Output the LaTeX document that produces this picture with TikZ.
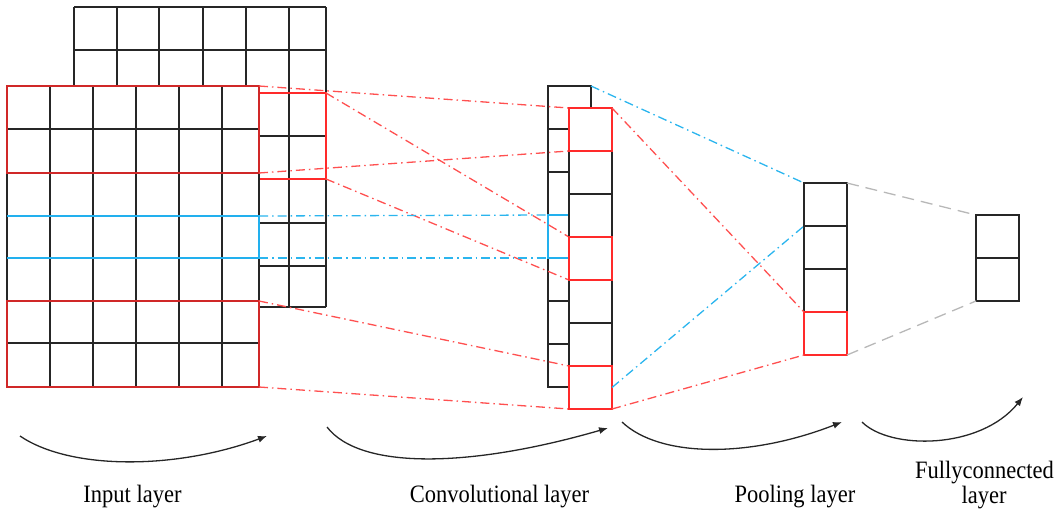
\documentclass[tikz,border=0pt]{standalone}
\usepackage{fontspec}
\newfontfamily\lblfont[FakeStretch=0.9]{Liberation Serif}
\usetikzlibrary{arrows.meta}
\definecolor{gridred}{HTML}{D02828}
\definecolor{cellred}{HTML}{FF2A2A}
\definecolor{lnred}{HTML}{FF5050}
\definecolor{lnblue}{HTML}{2BB5EE}
\definecolor{lngray}{HTML}{B8B8B8}
\definecolor{gridblue}{HTML}{22B0EE}
\begin{document}
\begin{tikzpicture}[x=1pt,y=-1pt,
  gline/.style={line width=1.9pt, draw=black!85},
  redframe/.style={line width=2pt, draw=gridred},
  blueframe/.style={line width=1.9pt, draw=gridblue},
  cell/.style={draw=black!85, line width=1.9pt, inner sep=0pt, outer sep=0pt,
    anchor=north west, minimum width=43pt, minimum height=43pt},
  redcell/.style={cell, draw=cellred},
  bluecell/.style={cell, draw=gridblue},
  reddash/.style={draw=lnred, line width=1.3pt, dash pattern=on 9pt off 4pt on 1.5pt off 4pt},
  bluedash/.style={draw=lnblue, line width=1.3pt, dash pattern=on 9pt off 4pt on 1.5pt off 4pt},
  graydash/.style={draw=lngray, line width=1.3pt, dash pattern=on 12pt off 7pt},
  flow/.style={draw=black!85, line width=1.3pt, -{Latex[length=9pt,width=7pt]}},
  lbl/.style={font=\lblfont\fontsize{25}{25}\selectfont, inner sep=0pt, anchor=base}
]
\useasboundingbox (0,0) rectangle (1063,512);

% ---------- back input grid ----------
\fill[white] (74,7) rectangle (326,307);
\foreach \yy in {7,50,93,136,179,223,266,307}
  \draw[gline] (74,\yy) -- (326,\yy);
\foreach \xx in {74,117,159,203,246,289,326}
  \draw[gline] (\xx,7) -- (\xx,307);
\draw[redframe, draw=cellred] (259,93) rectangle (326,179);

% ---------- front input grid ----------
\fill[white] (7,86) rectangle (259,387);
\foreach \yy in {86,129,173,216,258,301,343,387}
  \draw[gline] (7,\yy) -- (259,\yy);
\foreach \xx in {7,50,93,136,179,222,259}
  \draw[gline] (\xx,86) -- (\xx,387);
\draw[blueframe] (7,216) -- (259,216) -- (259,258) -- (7,258);
\draw[redframe] (7,86) rectangle (259,173);
\draw[redframe] (7,301) rectangle (259,387);

% named anchor points of the input layer
\coordinate (fgA) at (259,86);
\coordinate (fgB) at (259,173);
\coordinate (fgC) at (259,301);
\coordinate (fgD) at (259,387);
\coordinate (fgE) at (259,216);
\coordinate (fgF) at (259,258);
\coordinate (bgA) at (326,93);
\coordinate (bgB) at (326,179);

% ---------- convolutional layer: back column ----------
\foreach \i in {1,...,7}
  \node[cell] (cb\i) at (548,{86+43*(\i-1)}) {};
\node[bluecell] (cb4) at (548,{86+43*3}) {};

% ---------- convolutional layer: front column (positions) ----------
\path foreach \i in {1,...,7} { (569,{108+43*(\i-1)}) coordinate (cfpos\i) };

% connectors input -> conv
\draw[reddash] (fgA) -- (cfpos1);
\draw[reddash] (bgA) -- (cfpos4);
\draw[reddash] (fgB) -- (cfpos2);
\draw[reddash] (bgB) -- (cfpos5);
\draw[reddash] (fgC) -- (cfpos7);
\draw[reddash] (fgD) -- (569,409);
\draw[bluedash] (fgE) -- (cb4.north west);
\draw[bluedash] (fgF) -- (cb4.south west);

% ---------- convolutional layer: front column ----------
\fill[white] (569,108) rectangle (612,409);
\foreach \i in {1,...,7}
  \node[cell] (cf\i) at (cfpos\i) {};
\foreach \i in {1,4,7}
  \node[redcell] (cf\i) at (cfpos\i) {};

% ---------- pooling layer ----------
\foreach \i in {1,...,3}
  \node[cell] (p\i) at (804,{183+43*(\i-1)}) {};
\node[redcell] (p4) at (804,{183+43*3}) {};

% ---------- fully connected layer ----------
\node[cell] (f1) at (976,215) {};
\node[cell] (f2) at (976,258) {};

% connectors conv -> pool
\draw[bluedash] (cb1.north east) -- (p1.north west);
\draw[reddash] (cf1.north east) -- (p4.north west);
\draw[bluedash] (cf7.east) -- (p2.north west);
\draw[reddash] (cf7.south east) -- (p4.south west);

% connectors pool -> fc
\draw[graydash] (p1.north east) -- (f1.north west);
\draw[graydash] (p4.south east) -- (f2.south west);

% ---------- flow arrows ----------
\coordinate (a1s) at (20,436);   \coordinate (a1e) at (267,436);
\coordinate (a2s) at (327,427);  \coordinate (a2e) at (608,428);
\coordinate (a3s) at (622,422);  \coordinate (a3e) at (842,422);
\coordinate (a4s) at (862,422);  \coordinate (a4e) at (1023,397);
\draw[flow] (a1s) .. controls (70,470) and (175,470) .. (a1e);
\draw[flow] (a2s) .. controls (360,470) and (470,468) .. (a2e);
\draw[flow] (a3s) .. controls (660,458) and (750,458) .. (a3e);
\draw[flow] (a4s) .. controls (890,450) and (980,450) .. (a4e);

% ---------- labels ----------
\node[lbl] (t1) at (132.5,502) {Input layer};
\node[lbl] (t2) at (499.5,502) {Convolutional layer};
\node[lbl] (t3) at (795,502) {Pooling layer};
\node[lbl] (t4a) at (984.5,478) {Fullyconnected};
\node[lbl] (t4b) at (984,503) {layer};
\end{tikzpicture}
\end{document}
